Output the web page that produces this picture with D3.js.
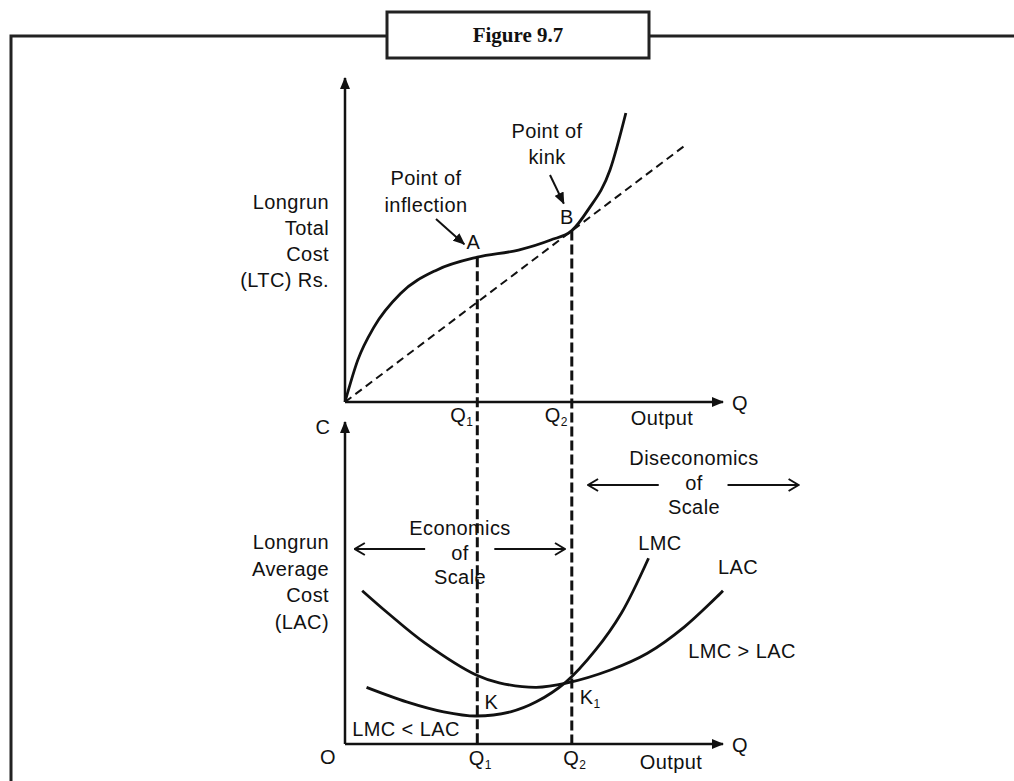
<!DOCTYPE html>
<html>
<head>
<meta charset="utf-8">
<script src="https://cdn.jsdelivr.net/npm/d3@7"></script>
<style>
  body { margin: 0; background: #fff; }
  text { font-family: "Liberation Sans", Arial, sans-serif; font-size: 20px; fill: #111; letter-spacing: 0.4px; }
</style>
</head>
<body>
<script>
// output levels marked on both panels
var qValues = [3.5, 6];
var qSubs = ["1", "2"];

// long run total cost curve (top panel)
var ltcX = [0, 0.34, 0.77, 1.47, 2.42, 3.5, 4.59, 5.44, 6.0, 6.43, 7.01, 7.43];
var ltcY = [0, 1.30, 2.32, 3.35, 4.07, 4.47, 4.69, 5.0, 5.29, 5.93, 7.16, 8.92];

// ray from origin, tangent at B
var rayX = [0, 9.03];
var rayY = [0, 7.95];

// long run average cost (bottom panel)
var lacX = [0.455, 1.14, 2.12, 3.47, 4.08, 5.06, 5.85, 7.02, 8.0, 8.98, 10.0];
var lacY = [4.76, 4.06, 3.13, 2.14, 1.90, 1.76, 1.89, 2.30, 2.82, 3.64, 4.76];

// long run marginal cost (bottom panel)
var lmcX = [0.57, 1.63, 2.61, 3.47, 4.38, 5.06, 5.85, 6.63, 7.31, 8.03];
var lmcY = [1.76, 1.31, 1.00, 0.87, 1.00, 1.31, 1.93, 2.92, 4.06, 5.77];

var W = 1014, H = 781;
var svg = d3.select("body").append("svg")
    .attr("width", W)
    .attr("height", H);

var x = d3.scaleLinear().domain([0, 10]).range([345, 723]);
var yTop = d3.scaleLinear().domain([0, 10]).range([402, 78]);
var yBot = d3.scaleLinear().domain([0, 10]).range([744, 422]);

var defs = svg.append("defs");
defs.append("marker")
    .attr("id", "tri")
    .attr("viewBox", "0 0 12 10")
    .attr("refX", 11).attr("refY", 5)
    .attr("markerWidth", 12).attr("markerHeight", 10)
    .attr("markerUnits", "userSpaceOnUse")
    .attr("orient", "auto")
    .append("path").attr("d", "M0,0 L12,5 L0,10 Z").attr("fill", "#111");
defs.append("marker")
    .attr("id", "chev")
    .attr("viewBox", "0 0 12 14")
    .attr("refX", 11).attr("refY", 7)
    .attr("markerWidth", 12).attr("markerHeight", 14)
    .attr("markerUnits", "userSpaceOnUse")
    .attr("orient", "auto-start-reverse")
    .append("path").attr("d", "M1,1 L11,7 L1,13").attr("fill", "none")
    .attr("stroke", "#111").attr("stroke-width", 2);

// frame and title box
var frame = svg.append("g").attr("stroke", "#222").attr("stroke-width", 3).attr("fill", "none");
frame.append("path").attr("d", "M11,781 L11,36 L387,36");
frame.append("path").attr("d", "M649,36 L1014,36");
frame.append("rect").attr("x", 387).attr("y", 12).attr("width", 262).attr("height", 46).attr("fill", "#fff");
svg.append("text")
    .attr("x", 518).attr("y", 42)
    .attr("text-anchor", "middle")
    .style("font-family", "'Liberation Serif', 'Times New Roman', serif")
    .style("font-weight", "bold")
    .style("font-size", "21px")
    .style("letter-spacing", "0px")
    .text("Figure 9.7");

function label(g, lines, px, py, anchor, lh) {
  var t = g.append("text").attr("text-anchor", anchor);
  lines.forEach(function (s, i) {
    t.append("tspan").attr("x", px).attr("y", py + i * lh).text(s);
  });
  return t;
}
function subLabel(g, main, sub, px, py, anchor) {
  var t = g.append("text").attr("x", px).attr("y", py).attr("text-anchor", anchor);
  t.append("tspan").text(main);
  t.append("tspan").attr("dy", 4).style("font-size", "12px").text(sub);
  return t;
}

var line = d3.line().x(function (d) { return x(d[0]); });

// ---------- top panel ----------
var topP = svg.append("g");
topP.append("line")
    .attr("x1", x(0)).attr("y1", yTop(0)).attr("x2", x(0)).attr("y2", yTop(10))
    .attr("stroke", "#111").attr("stroke-width", 2.5).attr("marker-end", "url(#tri)");
topP.append("line")
    .attr("x1", x(0)).attr("y1", yTop(0)).attr("x2", x(10)).attr("y2", yTop(0))
    .attr("stroke", "#111").attr("stroke-width", 2.5).attr("marker-end", "url(#tri)");

topP.append("path")
    .datum(d3.zip(rayX, rayY))
    .attr("d", line.y(function (d) { return yTop(d[1]); }).curve(d3.curveLinear))
    .attr("fill", "none").attr("stroke", "#111").attr("stroke-width", 2)
    .attr("stroke-dasharray", "8,5");

topP.append("path")
    .datum(d3.zip(ltcX, ltcY))
    .attr("d", line.y(function (d) { return yTop(d[1]); }).curve(d3.curveMonotoneX))
    .attr("fill", "none").attr("stroke", "#111").attr("stroke-width", 2.8);

label(topP, ["Longrun", "Total", "Cost", "(LTC) Rs."], 329, 209, "end", 26);
label(topP, ["Point of", "inflection"], 426, 185, "middle", 26.5);
label(topP, ["Point of", "kink"], 547, 138, "middle", 26);

// point A / B values on the LTC at Q1 and Q2
var ltcAtQ = qValues.map(function (q) { return ltcY[ltcX.indexOf(q)]; });
topP.append("text").attr("x", x(qValues[0]) - 4).attr("y", yTop(ltcAtQ[0]) - 8).attr("text-anchor", "middle").text("A");
topP.append("text").attr("x", x(qValues[1]) - 5).attr("y", yTop(ltcAtQ[1]) - 7).attr("text-anchor", "middle").text("B");
topP.append("line")
    .attr("x1", 436).attr("y1", 219).attr("x2", x(qValues[0]) - 13).attr("y2", yTop(ltcAtQ[0]) - 13)
    .attr("stroke", "#111").attr("stroke-width", 2).attr("marker-end", "url(#tri)");
topP.append("line")
    .attr("x1", 550).attr("y1", 175).attr("x2", x(qValues[1]) - 8).attr("y2", yTop(ltcAtQ[1]) - 27)
    .attr("stroke", "#111").attr("stroke-width", 2).attr("marker-end", "url(#tri)");

qValues.forEach(function (q, i) {
  subLabel(topP, "Q", qSubs[i], x(q) - 4, 422, "end");
});
topP.append("text").attr("x", 662).attr("y", 425).attr("text-anchor", "middle").text("Output");
topP.append("text").attr("x", 732).attr("y", 410).text("Q");

// ---------- bottom panel ----------
var bot = svg.append("g");
bot.append("line")
    .attr("x1", x(0)).attr("y1", yBot(0)).attr("x2", x(0)).attr("y2", yBot(10))
    .attr("stroke", "#111").attr("stroke-width", 2.5).attr("marker-end", "url(#tri)");
bot.append("line")
    .attr("x1", x(0)).attr("y1", yBot(0)).attr("x2", x(10)).attr("y2", yBot(0))
    .attr("stroke", "#111").attr("stroke-width", 2.5).attr("marker-end", "url(#tri)");

bot.append("path")
    .datum(d3.zip(lacX, lacY))
    .attr("d", line.y(function (d) { return yBot(d[1]); }).curve(d3.curveCatmullRom))
    .attr("fill", "none").attr("stroke", "#111").attr("stroke-width", 2.8);
bot.append("path")
    .datum(d3.zip(lmcX, lmcY))
    .attr("d", line.y(function (d) { return yBot(d[1]); }).curve(d3.curveCatmullRom))
    .attr("fill", "none").attr("stroke", "#111").attr("stroke-width", 2.8);

// dashed verticals from A and B down to the bottom axis
qValues.forEach(function (q, i) {
  svg.append("line")
      .attr("x1", x(q)).attr("y1", yTop(ltcAtQ[i]))
      .attr("x2", x(q)).attr("y2", yBot(0))
      .attr("stroke", "#111").attr("stroke-width", 3)
      .attr("stroke-dasharray", "10,4");
});

bot.append("text").attr("x", 323).attr("y", 434).attr("text-anchor", "middle").text("C");
bot.append("text").attr("x", 328).attr("y", 764).attr("text-anchor", "middle").text("O");
qValues.forEach(function (q, i) {
  subLabel(bot, "Q", qSubs[i], x(q) + 3, 765, "middle");
});
bot.append("text").attr("x", 671).attr("y", 769).attr("text-anchor", "middle").text("Output");
bot.append("text").attr("x", 732).attr("y", 752).text("Q");

label(bot, ["Longrun", "Average", "Cost", "(LAC)"], 329, 549, "end", 26.7);
label(bot, ["Economics", "of", "Scale"], 460, 535, "middle", 24.5);
label(bot, ["Diseconomics", "of", "Scale"], 694, 465, "middle", 24.5);

// range arrows with a gap for the text
var econ = [0.26, 2.12, 3.95, 5.82];
var disecon = [6.43, 8.3, 10.12, 12.0];
function rangeArrow(r, py) {
  bot.append("line").attr("x1", x(r[1])).attr("y1", py).attr("x2", x(r[0])).attr("y2", py)
      .attr("stroke", "#111").attr("stroke-width", 2).attr("marker-end", "url(#chev)");
  bot.append("line").attr("x1", x(r[2])).attr("y1", py).attr("x2", x(r[3])).attr("y2", py)
      .attr("stroke", "#111").attr("stroke-width", 2).attr("marker-end", "url(#chev)");
}
rangeArrow(econ, 549);
rangeArrow(disecon, 485);

bot.append("text").attr("x", 660).attr("y", 550).attr("text-anchor", "middle").text("LMC");
bot.append("text").attr("x", 738).attr("y", 574).attr("text-anchor", "middle").text("LAC");
bot.append("text").attr("x", 742).attr("y", 658).attr("text-anchor", "middle").text("LMC > LAC");
bot.append("text").attr("x", 406).attr("y", 736).attr("text-anchor", "middle").text("LMC < LAC");
bot.append("text").attr("x", x(qValues[0]) + 14).attr("y", 709).attr("text-anchor", "middle").text("K");
subLabel(bot, "K", "1", x(qValues[1]) + 8, 704, "start");
</script>
</body>
</html>
